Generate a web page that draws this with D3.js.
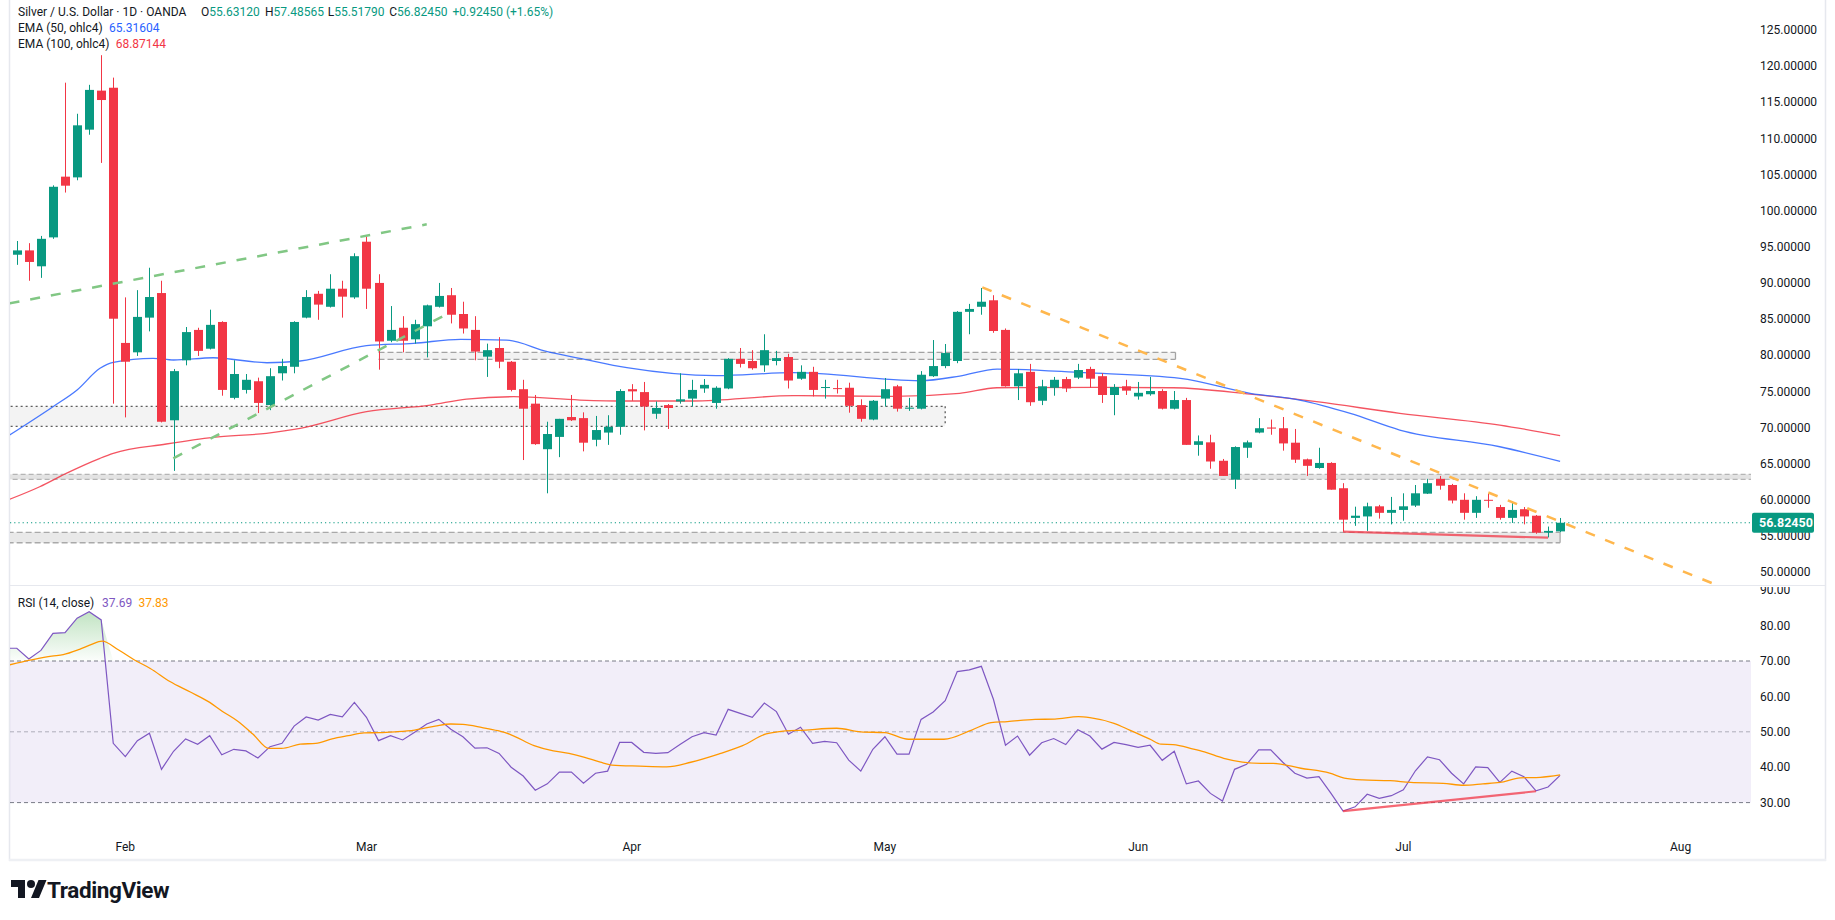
<!DOCTYPE html>
<html><head><meta charset="utf-8">
<script src="https://cdn.jsdelivr.net/npm/d3@7"></script>
<style>
html,body{margin:0;padding:0;background:#fff;overflow:hidden;}
svg{display:block;font-family:Roboto,"Noto Sans",sans-serif;}
</style></head><body>
<svg id="chart" width="1835" height="920"></svg>
<script>
// ---------------- DATA ----------------
const monthLabels = ["Feb","Mar","Apr","May","Jun","Jul","Aug"];
const monthBarIndex = [9,29,51,72,93,115,138];

const open = [93.9,94.5,92.3,96.3,104.7,104.6,111.2,116.6,117.0,81.7,
80.4,85.2,88.6,71.0,79.3,83.5,80.9,84.6,74.1,75.2,
76.4,73.1,77.5,78.4,85.2,88.5,86.7,89.2,88.0,95.7,
90.0,82.0,83.8,82.2,84.0,86.7,88.3,85.7,83.5,79.8,
81.0,79.1,75.3,73.3,67.0,68.7,71.45,71.3,68.3,69.3,
70.1,75.3,74.9,71.9,73.1,73.6,74.0,75.4,73.4,75.4,
79.5,79.2,78.6,79.2,79.75,76.75,77.7,75.5,75.45,75.5,
73.1,71.1,74.0,75.7,72.6,72.6,77.1,78.5,79.2,86.0,
86.7,87.6,83.5,75.7,77.7,73.7,75.5,76.7,76.9,78.1,
77.1,74.5,75.7,74.3,74.6,75.05,72.6,73.8,67.6,67.95,
65.4,62.8,67.2,69.3,70.0,69.9,67.9,65.6,64.4,65.1,
61.6,57.5,57.7,59.1,58.2,58.6,59.2,60.85,62.9,62.05,
60.0,58.2,60.0,59.0,57.5,58.7,57.8,55.45,55.6312];
const high = [95.8,95.5,96.5,103.5,117.7,113.4,117.4,121.5,118.4,88.0,
89.0,92.1,90.3,78.1,83.9,83.8,86.3,84.7,79.3,77.4,
76.9,78.2,79.5,84.7,89.0,88.9,91.2,90.3,94.1,96.4,
91.2,86.8,85.4,84.9,87.0,90.0,89.3,87.4,85.4,81.6,
82.5,79.2,76.6,74.5,70.8,71.2,74.5,72.1,71.6,71.7,
75.3,76.0,76.3,73.6,73.25,77.5,76.6,76.7,75.7,79.6,
81.0,80.7,82.9,80.6,80.2,78.6,78.4,76.6,76.6,76.2,
73.9,73.8,76.85,75.9,74.1,77.8,82.1,81.55,86.1,87.1,
89.3,88.3,83.7,78.1,78.8,76.6,77.0,77.0,78.8,78.4,
77.5,76.0,76.6,76.3,77.0,75.3,75.05,74.1,68.9,69.0,
65.65,67.4,68.2,71.3,71.1,71.45,69.8,65.7,67.2,65.2,
62.3,59.05,59.6,59.3,60.4,60.9,62.05,62.9,63.3,62.2,
60.9,60.5,60.9,59.3,59.7,59.0,57.9,56.3,57.48565];
const low = [92.5,90.3,90.7,96.1,102.5,104.2,110.5,106.6,73.3,71.4,
79.9,83.3,70.7,64.0,78.6,79.9,80.8,74.4,73.9,74.7,
72.0,72.4,76.5,77.5,85.1,84.9,86.6,85.2,87.8,86.4,
78.0,81.8,80.4,81.6,79.7,86.6,84.4,83.0,79.3,77.0,
78.2,75.0,65.5,67.6,60.9,65.9,70.9,66.7,67.4,67.6,
69.0,73.7,69.6,71.2,69.8,73.3,72.9,74.8,72.6,75.3,
78.3,78.0,77.7,78.6,75.4,76.6,74.3,74.0,74.7,72.05,
70.8,71.0,72.9,72.2,72.3,72.5,77.0,78.2,78.9,82.9,
85.6,83.1,75.65,73.8,73.0,73.1,74.4,74.9,76.7,75.5,
73.4,71.7,74.5,73.85,74.4,72.5,72.5,67.6,66.1,64.3,
63.3,61.5,65.8,69.2,69.0,66.8,65.1,63.3,64.3,61.4,
55.6,56.4,55.7,57.4,56.6,57.1,59.0,60.8,61.4,59.5,
57.25,57.5,58.9,57.25,56.8,56.6,55.3,54.8,55.5179];
const close = [94.5,92.9,96.1,103.3,103.45,111.8,116.7,115.3,85.05,79.1,
85.3,88.05,70.8,77.8,83.2,80.6,84.2,75.2,77.4,76.6,
73.4,77.1,78.5,84.6,88.05,87.0,89.2,88.1,93.7,89.2,
81.9,83.5,82.0,84.3,86.9,88.2,85.6,83.7,80.5,80.7,
79.1,75.2,72.6,67.7,69.1,71.2,71.0,67.9,69.65,70.1,
75.05,75.0,72.9,72.7,72.7,73.9,75.2,75.9,75.5,79.5,
78.8,78.2,80.7,79.6,76.5,77.7,75.2,75.6,75.4,73.0,
71.2,73.7,75.3,72.6,72.75,77.3,78.5,80.3,86.0,86.4,
87.4,83.35,75.7,77.5,73.5,75.7,76.6,75.4,77.95,76.75,
74.5,75.6,75.1,74.8,75.05,72.6,73.8,67.6,68.1,65.3,
63.3,67.3,67.95,69.9,69.85,67.8,65.55,64.7,65.1,61.4,
57.25,57.8,59.1,58.2,58.6,59.1,60.9,62.3,61.95,59.9,
58.2,60.0,59.9,57.5,58.6,57.7,55.45,55.7,56.8245];

// EMA readings: [bar index, price]
const ema50 = [[-0.6,68.96],[3.0,72.88],[5.0,75.19],[6.9,78.19],[8.0,79.02],[11.3,79.57],[13.0,79.34],[16.3,79.65],[20.75,78.96],[23.5,79.2],[29.0,81.32],[32.9,81.65],[36.8,82.2],[40.6,82.1],[44.0,80.49],[46.7,79.57],[50.6,78.27],[58.0,77.17],[64.4,77.58],[74.9,76.47],[78.2,77.12],[81.3,78.09],[88.5,77.58],[96.5,76.8],[102.3,74.73],[106.4,73.8],[110.6,71.96],[114.7,69.65],[123.0,67.34],[128,65.316]];
const ema100 = [[-0.6,60.07],[1.9,61.81],[4.1,63.66],[6.9,65.74],[8.0,66.43],[12.4,67.72],[16.3,68.64],[20.7,69.2],[23.5,69.89],[29.0,72.19],[34.3,73.11],[37.3,73.94],[41.2,74.26],[46.7,73.8],[50.6,73.67],[56.1,73.67],[64.4,74.4],[72.7,74.32],[78.2,74.73],[81.3,75.5],[89.8,75.56],[95.9,75.5],[102.3,74.63],[107.8,73.57],[114.7,71.96],[123.0,70.34],[128,68.871]];

// RSI per bar, first value is bar -1
const rsiFirstIndex = -1;
const rsi = [73.6, 73.6,70.6,73.0,77.8,78.0,82.1,83.9,81.6,46.75,43.0,
47.5,49.6,39.4,44.5,48.0,46.5,48.9,43.5,45.05,44.6,
42.6,45.8,46.75,51.6,54.2,53.3,54.9,54.2,58.3,54.1,
47.5,48.9,47.7,49.9,52.2,53.5,50.7,48.6,45.4,45.5,
43.9,40.0,37.5,33.5,35.3,38.6,38.6,35.5,38.3,38.9,
47.0,47.0,44.2,43.9,44.1,46.4,48.6,49.75,49.1,56.35,
55.2,54.1,58.1,55.7,49.3,51.3,46.75,47.3,46.9,42.0,
38.9,45.05,48.6,43.7,43.7,53.5,55.6,58.8,67.0,67.5,
68.5,59.2,46.2,48.8,43.4,46.9,48.1,46.4,50.6,48.8,
45.1,47.0,46.4,45.6,46.2,41.95,44.5,35.3,36.1,32.6,
30.45,39.4,40.8,44.9,44.9,41.4,38.3,36.9,37.3,32.6,
27.6,28.8,32.35,31.2,31.95,33.6,39.0,42.9,42.1,38.3,
35.3,40.1,39.9,35.7,38.9,37.3,33.3,34.4,37.69];
// RSI-based MA readings: [bar index, value]
const rsiMA = [[-0.6,68.9],[1.2,70.3],[2.9,71.4],[3.85,71.8],[5.2,73.3],[6.15,74.6],[7.07,75.6],[8.45,73.1],[9.76,70.3],[11.07,67.9],[12.7,64.2],[14.35,61.3],[16.0,58.3],[17.0,55.9],[18.3,53.05],[19.6,49.3],[20.9,45.3],[21.95,45.3],[23.5,46.5],[24.8,46.75],[26.15,48.0],[27.5,48.9],[28.8,49.7],[30.1,49.75],[31.4,50.0],[33.0,50.5],[34.7,51.6],[36.0,52.2],[37.0,52.1],[38.6,51.2],[39.9,50.3],[40.9,49.3],[42.9,46.1],[44.5,44.6],[45.8,43.9],[47.1,42.8],[48.4,41.4],[49.35,40.6],[51.65,40.3],[53.9,40.1],[55.9,41.4],[58.2,43.7],[60.2,46.1],[62.15,49.4],[63.1,50.0],[65.4,50.5],[68.0,51.0],[70.0,50.0],[72.0,49.75],[73.95,47.9],[76.9,47.9],[79.2,50.5],[80.8,52.6],[82.15,52.9],[84.45,53.5],[86.1,53.6],[88.05,54.3],[89.0,54.0],[91.0,52.4],[92.3,50.5],[94.0,47.9],[94.9,46.5],[95.9,46.4],[97.6,45.1],[98.5,44.3],[100.1,42.5],[103.2,41.1],[104.2,41.1],[106.5,39.7],[108.9,38.3],[110.1,36.9],[111.6,36.4],[113.9,36.2],[115.6,35.7],[118.3,35.45],[120.0,34.9],[121.6,35.3],[123.0,35.7],[124.7,37.0],[126.35,37.15],[128,37.83]];

// horizontal zones (price low/high, bar start/end)
const zoneLow   = [79.43, 70.17, 62.83, 54.06];
const zoneHigh  = [80.40, 72.93, 63.53, 55.50];
const zoneStart = [30, -3, -3, -3];
const zoneEnd   = [96.1, 77.0, 160, 128];

// drawn trend lines: [bar index, value]
const trendGreenUpper = [[-0.6,87.18],[34.0,98.11]];
const trendGreenLower = [[12.98,65.74],[35.8,85.8]];
const trendOrange = [[80.08,89.39],[141.0,48.2]];
const supportLine = [[110,55.59],[127,54.76]];
const rsiDivergence = [[110,27.6],[126,33.2]];

const priceTicks = [50,55,60,65,70,75,80,85,90,95,100,105,110,115,120,125];
const rsiTicks = [30,40,50,60,70,80,90];
const lastPrice = 56.8245;
const header = {sym:"Silver / U.S. Dollar · 1D · OANDA", o:"55.63120", h:"57.48565", l:"55.51790", c:"56.82450", chg:"+0.92450 (+1.65%)"};
const ema50Last = "65.31604", ema100Last = "68.87144";
const rsiLast = "37.69", rsiMALast = "37.83";

// ---------------- DRAW ----------------
const GREEN="#089981", RED="#f23645", TXT="#131722";
const svg = d3.select("#chart");
const L = 10, R = 1751;
const mainBottom = 585, rsiTop = 586, rsiBottom = 834;

const x = d3.scaleLinear().domain([0,128]).range([16.8,1560.1]);
const yP = d3.scaleLinear().domain([50,125]).range([572.1,29.9]);
const yR = d3.scaleLinear().domain([30,70]).range([802.6,661]);

const defs = svg.append("defs");
defs.append("clipPath").attr("id","clipMain").append("rect").attr("x",L).attr("y",0).attr("width",R-L).attr("height",mainBottom);
defs.append("clipPath").attr("id","clipRsi").append("rect").attr("x",L).attr("y",rsiTop).attr("width",R-L).attr("height",rsiBottom-rsiTop);
defs.append("clipPath").attr("id","clipRsiAxis").append("rect").attr("x",R).attr("y",rsiTop+1).attr("width",80).attr("height",rsiBottom-rsiTop);
const grad = defs.append("linearGradient").attr("id","obGrad").attr("gradientUnits","userSpaceOnUse")
  .attr("x1",0).attr("x2",0).attr("y1",yR(95)).attr("y2",yR(70));
grad.append("stop").attr("offset",0).attr("stop-color","#4caf50").attr("stop-opacity",0.6);
grad.append("stop").attr("offset",1).attr("stop-color","#4caf50").attr("stop-opacity",0.02);

// frame
svg.append("rect").attr("x",0).attr("y",0).attr("width",1835).attr("height",920).attr("fill","#fff");
svg.append("line").attr("x1",9.5).attr("x2",9.5).attr("y1",0).attr("y2",861).attr("stroke","#e6e8ee").attr("stroke-width",1.5);
svg.append("line").attr("x1",1825.5).attr("x2",1825.5).attr("y1",0).attr("y2",861).attr("stroke","#e6e8ee").attr("stroke-width",1.5);
svg.append("line").attr("x1",9).attr("x2",1826).attr("y1",860).attr("y2",860).attr("stroke","#eef0f4").attr("stroke-width",2.5);
svg.append("line").attr("x1",10).attr("x2",1825).attr("y1",585.5).attr("y2",585.5).attr("stroke","#e6e8ee").attr("stroke-width",1);

// ---------- main pane ----------
const main = svg.append("g").attr("clip-path","url(#clipMain)");

// zones
const zoneFill = ["#f2f2f2","#f3f3f3","#e3e3e3","#e9e9e9"];
const zoneStroke = ["#a3a3a3","#5d5d5d","#b5b5b5","#a9a9a9"];
const zoneDash = ["6 3","2 3","5 3","6 3"];
zoneLow.forEach((lo,k)=>{
  const x0 = x(zoneStart[k]), x1 = x(zoneEnd[k]);
  const yt = yP(zoneHigh[k]), yb = yP(lo);
  const g = main.append("g");
  g.append("rect").attr("x",x0).attr("y",yt).attr("width",x1-x0).attr("height",yb-yt).attr("fill",zoneFill[k]);
  [yt,yb].forEach(yy=>g.append("line").attr("x1",x0).attr("x2",x1).attr("y1",yy).attr("y2",yy)
    .attr("stroke",zoneStroke[k]).attr("stroke-width",1.3).attr("stroke-dasharray",zoneDash[k]));
  if (zoneEnd[k] < 140) {
    g.append("line").attr("x1",x1).attr("x2",x1).attr("y1",yt).attr("y2",yb)
      .attr("stroke",zoneStroke[k]).attr("stroke-width",1.3).attr("stroke-dasharray",k===1?zoneDash[k]:null);
  }
});

// EMAs
const emaLine = d3.line().x(d=>x(d[0])).y(d=>yP(d[1])).curve(d3.curveMonotoneX);
main.append("path").attr("d",emaLine(ema100)).attr("fill","none").attr("stroke","#f23645").attr("stroke-opacity",0.85).attr("stroke-width",1.3);
main.append("path").attr("d",emaLine(ema50)).attr("fill","none").attr("stroke","#2962ff").attr("stroke-opacity",0.85).attr("stroke-width",1.3);

// current price dotted line
main.append("line").attr("x1",L).attr("x2",R).attr("y1",yP(lastPrice)).attr("y2",yP(lastPrice))
  .attr("stroke",GREEN).attr("stroke-width",1.2).attr("stroke-dasharray","1.2 3");

// candles
const bars = open.map((o,i)=>({i,o,h:high[i],l:low[i],c:close[i]}));
const col = d=> d.c>=d.o?GREEN:RED;
const gC = main.append("g");
gC.selectAll("line").data(bars).join("line")
  .attr("x1",d=>Math.round(x(d.i))+0.5).attr("x2",d=>Math.round(x(d.i))+0.5)
  .attr("y1",d=>yP(d.h)).attr("y2",d=>yP(d.l)).attr("stroke",col).attr("stroke-width",1);
gC.selectAll("rect").data(bars).join("rect")
  .attr("x",d=>Math.round(x(d.i))-4).attr("width",9)
  .attr("y",d=>yP(Math.max(d.o,d.c)))
  .attr("height",d=>Math.max(1,Math.abs(yP(d.o)-yP(d.c))))
  .attr("fill",col);

// trend lines
const tl = d3.line().x(d=>x(d[0])).y(d=>yP(d[1]));
main.append("path").attr("d",tl(trendGreenUpper)).attr("stroke","#81c784").attr("stroke-width",2.5).attr("stroke-dasharray","10 11").attr("fill","none");
main.append("path").attr("d",tl(trendGreenLower)).attr("stroke","#81c784").attr("stroke-width",2.5).attr("stroke-dasharray","10 11").attr("fill","none");
main.append("path").attr("d",tl(trendOrange)).attr("stroke","#ffb74d").attr("stroke-width",2.5).attr("stroke-dasharray","10 11").attr("fill","none");
main.append("path").attr("d",tl(supportLine)).attr("stroke","#f23645").attr("stroke-opacity",0.75).attr("stroke-width",2.2).attr("fill","none");

// price axis
const pAxis = svg.append("g");
priceTicks.forEach(p=>{
  pAxis.append("text").attr("x",1760).attr("y",yP(p)).attr("dy","0.35em")
    .attr("font-size",12).attr("fill",TXT).text(p.toFixed(5));
});
const ly = yP(lastPrice);
pAxis.append("rect").attr("x",1752).attr("y",ly-10).attr("width",62).attr("height",20).attr("rx",2).attr("fill",GREEN);
pAxis.append("text").attr("x",1759).attr("y",ly).attr("dy","0.35em").attr("font-size",12.5).attr("font-weight",700)
  .attr("fill","#fff").text(lastPrice.toFixed(5));

// header
const hdr = svg.append("g").attr("font-size",12).attr("fill",TXT);
const t1 = hdr.append("text").attr("y",15.5);
t1.append("tspan").attr("x",18).text(header.sym);
[["O",201,header.o],["H",265,header.h],["L",327.7,header.l],["C",389.3,header.c]].forEach(([k,xx,v])=>{
  t1.append("tspan").attr("x",xx).attr("fill",TXT).text(k);
  t1.append("tspan").attr("fill",GREEN).text(v);
});
t1.append("tspan").attr("dx",5).attr("fill",GREEN).text(header.chg);
const t2 = hdr.append("text").attr("y",31.8);
t2.append("tspan").attr("x",18).text("EMA (50, ohlc4)");
t2.append("tspan").attr("x",109).attr("fill","#2962ff").text(ema50Last);
const t3 = hdr.append("text").attr("y",47.8);
t3.append("tspan").attr("x",18).text("EMA (100, ohlc4)");
t3.append("tspan").attr("x",115.7).attr("fill","#f23645").text(ema100Last);

// ---------- RSI pane ----------
const rp = svg.append("g").attr("clip-path","url(#clipRsi)");
rp.append("rect").attr("x",L).attr("width",R-L).attr("y",yR(70)).attr("height",yR(30)-yR(70)).attr("fill","#7e57c2").attr("fill-opacity",0.1);
[[70,"#787b86",1],[50,"#787b86",0.55],[30,"#787b86",1]].forEach(([v,c,o])=>{
  rp.append("line").attr("x1",L).attr("x2",R).attr("y1",yR(v)).attr("y2",yR(v))
    .attr("stroke",c).attr("stroke-opacity",o).attr("stroke-width",1).attr("stroke-dasharray","4 3");
});
const rsiPts = rsi.map((v,k)=>[k+rsiFirstIndex, v]);
rp.append("path").attr("d", d3.area().x(d=>x(d[0])).y0(yR(70)).y1(d=>yR(Math.max(d[1],70)))(rsiPts))
  .attr("fill","url(#obGrad)");
rp.append("path").attr("d", d3.line().x(d=>x(d[0])).y(d=>yR(d[1]))(rsiPts))
  .attr("fill","none").attr("stroke","#7e57c2").attr("stroke-width",1.2);
rp.append("path").attr("d", d3.line().x(d=>x(d[0])).y(d=>yR(d[1])).curve(d3.curveMonotoneX)(rsiMA))
  .attr("fill","none").attr("stroke","#ff9800").attr("stroke-width",1.3);
rp.append("path").attr("d", d3.line().x(d=>x(d[0])).y(d=>yR(d[1]))(rsiDivergence))
  .attr("fill","none").attr("stroke","#f23645").attr("stroke-opacity",0.75).attr("stroke-width",2.2);

const rA = svg.append("g").attr("clip-path","url(#clipRsiAxis)");
rsiTicks.forEach(v=>{
  rA.append("text").attr("x",1760).attr("y",yR(v)).attr("dy","0.35em").attr("font-size",12).attr("fill",TXT).text(v.toFixed(2));
});
const t4 = svg.append("text").attr("y",606.5).attr("font-size",12).attr("fill",TXT);
t4.append("tspan").attr("x",17.8).text("RSI (14, close)");
t4.append("tspan").attr("x",102).attr("fill","#7e57c2").text(rsiLast);
t4.append("tspan").attr("x",138.4).attr("fill","#ff9800").text(rsiMALast);

// ---------- time axis ----------
monthLabels.forEach((m,k)=>{
  svg.append("text").attr("x",x(monthBarIndex[k])).attr("y",851).attr("text-anchor","middle")
    .attr("font-size",12).attr("fill",TXT).text(m);
});

// ---------- logo ----------
const logo = svg.append("g").attr("transform","translate(11,876)").attr("fill","#131722");
logo.append("path").attr("d","M14 22H7V11H0V4h14v18zM28 22h-8l7.5-18h8L28 22z");
logo.append("circle").attr("cx",20).attr("cy",8).attr("r",4);
svg.append("text").attr("x",47).attr("y",897.5).attr("font-size",22.5).attr("font-weight",700)
  .attr("letter-spacing","-0.4").attr("fill","#131722").text("TradingView");
</script>
</body></html>
